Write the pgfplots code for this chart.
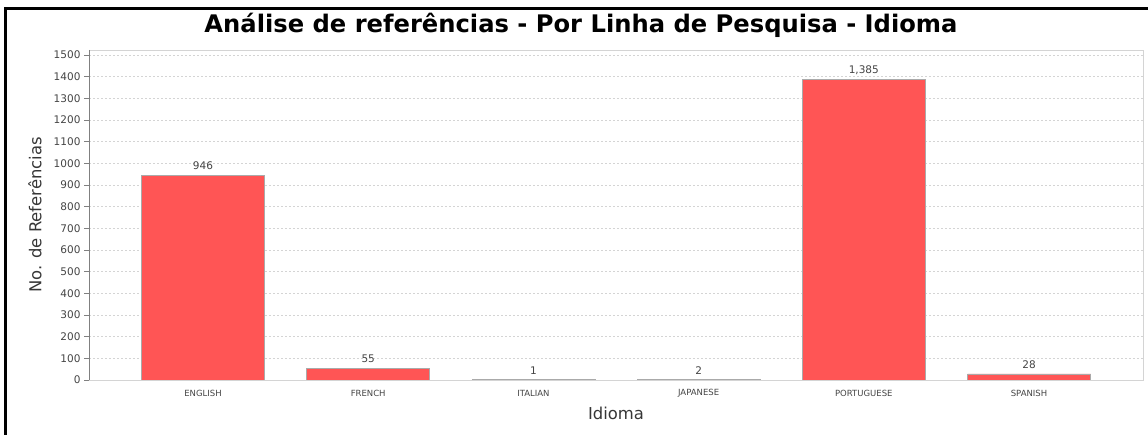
\documentclass[border=0pt]{standalone}
\usepackage{fontspec}
\setmainfont{DejaVu Sans}
\usepackage{pgfplots}
\pgfplotsset{compat=1.18}

\definecolor{barred}{RGB}{255,85,85}
\definecolor{baredge}{RGB}{170,170,170}
\definecolor{gridgray}{RGB}{212,212,212}
\definecolor{axisgray}{RGB}{128,128,128}
\definecolor{labelgray}{RGB}{68,68,68}

\begin{document}
\begin{tikzpicture}[x=1pt,y=1pt]
	\useasboundingbox (0,0) rectangle (1148,435);
	% frame of the chart panel
	\draw[line width=3pt] (5.5,0) -- (5.5,426.5) -- (1148,426.5);
	\node[anchor=base, font=\fontsize{24.2}{29}\selectfont\bfseries] at (581,402)
		{Análise de referências - Por Linha de Pesquisa - Idioma};

	\begin{axis}[
			at={(89pt,55pt)},
			anchor=south west,
			scale only axis,
			width=1054pt,
			height=330pt,
			ybar,
			bar width=123pt,
			xmin=-0.69, xmax=5.69,
			ymin=0, ymax=1523,
			xtick=data,
			xticklabels={ENGLISH, FRENCH, ITALIAN, JAPANESE, PORTUGUESE, SPANISH},
			xtick style={draw=none},
			ytick={0,100,...,1500},
			ytick pos=left,
			tick align=outside,
			major tick length=5pt,
			ytick style={axisgray, line width=0.8pt},
			/pgf/number format/assume math mode=true,
			x tick label style={font=\fontsize{8.5}{10}\selectfont, text=labelgray, anchor=center, yshift=-8pt},
			y tick label style={font=\fontsize{10.5}{12}\selectfont, text=labelgray,
				/pgf/number format/1000 sep={}},
			ymajorgrids=true,
			grid style={gridgray, dash pattern=on 2pt off 2pt, line width=0.6pt},
			axis line style={gridgray, line width=0.8pt},
			xlabel={Idioma},
			ylabel={No. de Referências},
			label style={font=\fontsize{16.4}{19}\selectfont, text=labelgray!80!black},
			xlabel style={at={(axis description cs:0.5,-0.1)}, anchor=center},
			ylabel style={at={(axis description cs:-0.0512,0.5)}, anchor=center},
			nodes near coords,
			every node near coord/.append style={font=\fontsize{10.5}{12}\selectfont, text=labelgray,
				inner sep=0pt, yshift=5pt, /pgf/number format/1000 sep={,}},
		]
		\addplot[fill=barred, draw=baredge, line width=0.8pt] coordinates {
				(0,946)
				(1,55)
				(2,1)
				(3,2)
				(4,1385)
				(5,28)
			};
		\draw[axisgray, line width=0.8pt] (rel axis cs:0,1) -- (rel axis cs:0,0) -- (rel axis cs:1,0);
	\end{axis}
\end{tikzpicture}
\end{document}
